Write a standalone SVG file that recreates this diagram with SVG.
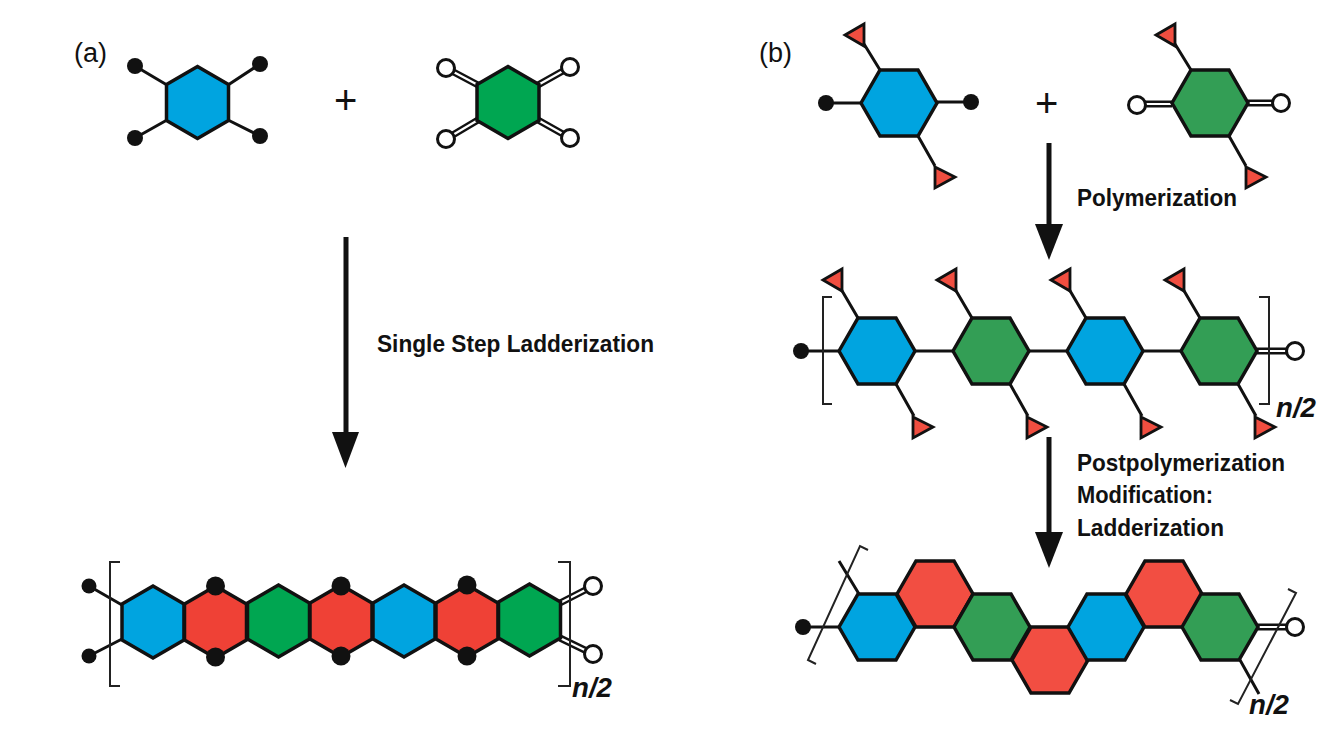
<svg xmlns="http://www.w3.org/2000/svg" width="1325" height="730" viewBox="0 0 1325 730">
<style>
text{font-family:"Liberation Sans",Arial,sans-serif;fill:#111}
.lab{font-size:24px;font-weight:700}
.par{font-size:27px}
.plus{font-size:40px}
.n{font-size:28px;font-weight:700;font-style:italic}
.h{stroke:#111;stroke-width:3.500;stroke-linejoin:miter}
.blue{fill:#00A4E0}.ga{fill:#00A651}.gb{fill:#339E55}.ra{fill:#EF4136}.rb{fill:#F24E42}
.b{stroke:#111;stroke-width:3;fill:none}
.br{stroke:#222;stroke-width:2;fill:none}
.d1{stroke:#111;stroke-width:7;fill:none}
.d2{stroke:#fff;stroke-width:2.200;fill:none}
.dot{fill:#111}
.open{fill:#fff;stroke:#111;stroke-width:3}
.tri{fill:#F04E40;stroke:#111;stroke-width:2.800;stroke-linejoin:miter}
.ar{stroke:#111;stroke-width:5;fill:none}
.head{fill:#111}
</style>
<defs>
<polygon id="pt" class="h" points="0,-36 31,-18 31,18 0,36 -31,18 -31,-18"/>
<polygon id="fl" class="h" points="-38,0 -19,-33 19,-33 38,0 19,33 -19,33"/>
<path id="ttop" class="tri" d="M-54,-68L-35,-79V-57Z"/>
<path id="tbot" class="tri" d="M36,64V85L56,74Z"/>
</defs>

<g id="connectors">
<path class="b" d="M135,66L167,85M260,64L228,85M135,138L167,120M260,136L228,120"/>
<path class="d1" d="M446,68L478,85M570,67L538,85M446,139L478,120M570,138L538,120"/>
<path class="d2" d="M446,68L478,85M570,67L538,85M446,139L478,120M570,138L538,120"/>
<path class="b" d="M89,586L122,605M89,656L122,639"/>
<path class="d1" d="M593,586L560,603M593,654L560,638"/>
<path class="d2" d="M593,586L560,603M593,654L560,638"/>
<path class="b" d="M826,103H861M971,102H937"/>
<path class="d1" d="M1137,104H1172M1281,103H1248"/>
<path class="d2" d="M1137,104H1172M1281,103H1248"/>
<path class="b" d="M880,70L864,44M918,136L935,166M1191,70L1175,44M1229,136L1246,166"/>
<path class="b" d="M801,351H839M915,351H953M1029,351H1067M1143,351H1181"/>
<path class="d1" d="M1295,351H1257"/>
<path class="d2" d="M1295,351H1257"/>
<path class="b" d="M858,318L841,289M896,384L914,416M972,318L955,289M1010,384L1028,416M1086,318L1069,289M1124,384L1142,416M1200,318L1183,289M1238,384L1256,416"/>
<path class="b" d="M803,627H840M859,594L839,561M1240,660L1259,694"/>
<path class="d1" d="M1295,627H1258"/>
<path class="d2" d="M1295,627H1258"/>
<path class="ar" d="M346,237V440"/><path class="head" d="M332,432H359L345.500,468Z"/>
<path class="ar" d="M1049,143V232"/><path class="head" d="M1035,224H1063L1049,260Z"/>
<path class="ar" d="M1049,437V540"/><path class="head" d="M1035,532H1063L1049,568Z"/>
</g>

<g id="bracket-a"><path class="br" d="M120,562H110V686H120M558,562H570V686H558"/></g>
<g id="bracket-b1"><path class="br" d="M832,297H823V404H832M1259,297H1269V404H1259"/></g>
<g id="bracket-b2"><path class="br" d="M868,550L860,546L808,660L816,664M1288,589L1296,593L1238,704L1230,700"/></g>

<g id="a-m1"><use href="#pt" x="197.500" y="102.500" class="blue"/><circle class="dot" cx="135" cy="66" r="8"/><circle class="dot" cx="260" cy="64" r="8"/><circle class="dot" cx="135" cy="138" r="8"/><circle class="dot" cx="260" cy="136" r="8"/></g>
<g id="a-m2"><use href="#pt" x="508" y="102.500" class="ga"/><circle class="open" cx="446" cy="68" r="8.500"/><circle class="open" cx="570" cy="67" r="8.500"/><circle class="open" cx="446" cy="139" r="8.500"/><circle class="open" cx="570" cy="138" r="8.500"/></g>

<g id="a-chain">
<use href="#pt" x="153" y="622" class="blue"/>
<use href="#pt" x="215.500" y="622" class="ra"/>
<use href="#pt" x="278.500" y="621" class="ga"/>
<use href="#pt" x="341" y="621" class="ra"/>
<use href="#pt" x="404" y="621" class="blue"/>
<use href="#pt" x="467" y="621" class="ra"/>
<use href="#pt" x="529.500" y="620" class="ga"/>
<circle class="dot" cx="89" cy="586" r="7.500"/><circle class="dot" cx="89" cy="656" r="7.500"/>
<circle class="open" cx="593" cy="586" r="8.500"/><circle class="open" cx="593" cy="654" r="8.500"/>
<circle class="dot" cx="215.500" cy="586" r="9.500"/><circle class="dot" cx="215.500" cy="657" r="9.500"/>
<circle class="dot" cx="341" cy="586" r="9.500"/><circle class="dot" cx="341" cy="656" r="9.500"/>
<circle class="dot" cx="467" cy="585" r="9.500"/><circle class="dot" cx="467" cy="656" r="9.500"/>
</g>

<g id="b-m1"><use href="#fl" x="899" y="103" class="blue"/><use href="#ttop" x="899" y="103"/><use href="#tbot" x="899" y="103"/><circle class="dot" cx="826" cy="103" r="8"/><circle class="dot" cx="971" cy="102" r="8"/></g>
<g id="b-m2"><use href="#fl" x="1210" y="103" class="gb"/><use href="#ttop" x="1210" y="103"/><use href="#tbot" x="1210" y="103"/><circle class="open" cx="1137" cy="105" r="8.500"/><circle class="open" cx="1281" cy="103" r="8.500"/></g>

<g id="b-chain">
<use href="#fl" x="877" y="351" class="blue"/><use href="#ttop" x="877" y="348"/><use href="#tbot" x="877" y="353"/>
<use href="#fl" x="991" y="351" class="gb"/><use href="#ttop" x="991" y="348"/><use href="#tbot" x="991" y="353"/>
<use href="#fl" x="1105" y="351" class="blue"/><use href="#ttop" x="1105" y="348"/><use href="#tbot" x="1105" y="353"/>
<use href="#fl" x="1219" y="351" class="gb"/><use href="#ttop" x="1219" y="348"/><use href="#tbot" x="1219" y="353"/>
<circle class="dot" cx="801" cy="351" r="8"/><circle class="open" cx="1295" cy="351" r="8.500"/>
</g>

<g id="b-ladder">
<use href="#fl" x="877" y="627" class="blue"/>
<use href="#fl" x="935" y="594" class="rb"/>
<use href="#fl" x="992" y="627" class="gb"/>
<use href="#fl" x="1050" y="660" class="rb"/>
<use href="#fl" x="1106" y="627" class="blue"/>
<use href="#fl" x="1164" y="594" class="rb"/>
<use href="#fl" x="1220" y="627" class="gb"/>
<circle class="dot" cx="803" cy="627" r="8"/><circle class="open" cx="1295" cy="627" r="8.500"/>
</g>

<g id="labels">
<text class="par" x="74" y="62">(a)</text>
<text class="par" x="759" y="62">(b)</text>
<text class="plus" x="334" y="114">+</text>
<text class="plus" x="1035" y="117">+</text>
<text class="lab" x="377" y="352" textLength="277" lengthAdjust="spacingAndGlyphs">Single Step Ladderization</text>
<text class="lab" x="1077" y="206" textLength="160" lengthAdjust="spacingAndGlyphs">Polymerization</text>
<text class="lab" x="1077" y="471" textLength="208" lengthAdjust="spacingAndGlyphs">Postpolymerization</text>
<text class="lab" x="1077" y="503" textLength="136" lengthAdjust="spacingAndGlyphs">Modification:</text>
<text class="lab" x="1077" y="536" textLength="147" lengthAdjust="spacingAndGlyphs">Ladderization</text>
<text class="n" x="572" y="697" textLength="40" lengthAdjust="spacingAndGlyphs">n/2</text>
<text class="n" x="1276" y="417" textLength="40" lengthAdjust="spacingAndGlyphs">n/2</text>
<text class="n" x="1249" y="714" textLength="40" lengthAdjust="spacingAndGlyphs">n/2</text>
</g>
</svg>
